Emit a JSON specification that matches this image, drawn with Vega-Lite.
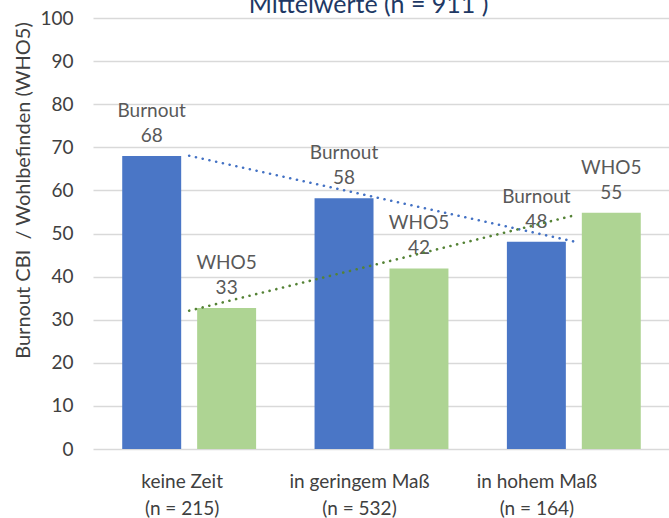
{
  "$schema": "https://vega.github.io/schema/vega-lite/v6.json",
  "width": 577,
  "height": 431,
  "autosize": {"type": "none"},
  "padding": {"left": 93, "top": 18, "right": 0, "bottom": 69},
  "background": "white",
  "config": {"view": {"stroke": null}, "font": "Lato"},
  "title": {"text": "Mittelwerte (n = 911 )", "font": "Lato", "fontSize": 25, "fontWeight": "normal", "color": "#203864", "offset": 0, "dy": 29, "baseline": "alphabetic", "frame": "group", "anchor": "middle", "dx": -13},
  "data": {"values": [
    {"cat": "keine Zeit (n = 215)", "idx": 1, "series": "Burnout", "value": 68.0},
    {"cat": "keine Zeit (n = 215)", "idx": 1, "series": "WHO5", "value": 32.7},
    {"cat": "in geringem Maß (n = 532)", "idx": 2, "series": "Burnout", "value": 58.2},
    {"cat": "in geringem Maß (n = 532)", "idx": 2, "series": "WHO5", "value": 41.9},
    {"cat": "in hohem Maß (n = 164)", "idx": 3, "series": "Burnout", "value": 48.1},
    {"cat": "in hohem Maß (n = 164)", "idx": 3, "series": "WHO5", "value": 54.8}
  ]},
  "layer": [
    {
      "encoding": {
        "x": {"field": "cat", "type": "nominal", "sort": null, "scale": {"paddingInner": 0, "paddingOuter": 0}, "axis": null},
        "xOffset": {"field": "series", "type": "nominal", "scale": {"paddingInner": 0.213, "paddingOuter": 0.39}},
        "y": {"field": "value", "type": "quantitative", "scale": {"domain": [0, 100]},
          "axis": {"values": [0,10,20,30,40,50,60,70,80,90,100], "grid": true, "gridColor": "#d9d9d9", "gridWidth": 1.3, "domain": false, "ticks": false, "labelPadding": 20, "labelFont": "Lato", "labelFontSize": 19, "labelColor": "#404040", "title": "Burnout CBI \u00a0/ Wohlbefinden (WHO5)", "titleFont": "Lato", "titleFontSize": 20, "titleFontWeight": "normal", "titleColor": "#404040", "titleX": -60, "titleY": 172, "titleAngle": -90, "titleAlign": "center", "titleBaseline": "bottom"}}
      },
      "layer": [
        {"mark": {"type": "bar"},
         "encoding": {"fill": {"field": "series", "type": "nominal", "scale": {"domain": ["Burnout", "WHO5"], "range": ["#4a76c6", "#aed493"]}, "legend": null}}},
        {"mark": {"type": "text", "baseline": "alphabetic", "dy": -14, "font": "Lato", "fontSize": 19, "color": "#595959"},
         "encoding": {"text": {"field": "value", "type": "quantitative", "format": ".0f"}}},
        {"mark": {"type": "text", "baseline": "alphabetic", "dy": -39, "font": "Lato", "fontSize": 19, "color": "#595959"},
         "encoding": {"text": {"field": "series", "type": "nominal"}}}
      ]
    },
    {
      "mark": {"type": "point", "opacity": 0},
      "encoding": {
        "x": {"field": "cat", "type": "nominal", "sort": null, "scale": {"range": [0, 532], "paddingInner": 0, "paddingOuter": 0},
          "axis": {"orient": "bottom", "domain": false, "ticks": false, "labelPadding": 23, "labelFont": "Lato", "labelFontSize": 19, "labelColor": "#404040", "labelAngle": 0, "labelLineHeight": 27, "labelExpr": "[substring(datum.label, 0, indexof(datum.label, ' (')), substring(datum.label, indexof(datum.label, ' (') + 1)]", "title": null}},
        "y": {"datum": 0, "type": "quantitative"}
      }
    },
    {
      "transform": [{"filter": "datum.series === 'Burnout'"}, {"regression": "value", "on": "idx", "extent": [1, 3]}],
      "mark": {"type": "line", "color": "#4472C4", "strokeWidth": 2.6, "strokeCap": "round", "strokeDash": [0.1, 6.8]},
      "encoding": {
        "x": {"field": "idx", "type": "quantitative", "scale": {"domain": [0.5, 3.5]}, "axis": null},
        "y": {"field": "value", "type": "quantitative"}
      }
    },
    {
      "transform": [{"filter": "datum.series === 'WHO5'"}, {"regression": "value", "on": "idx", "extent": [1, 3]}],
      "mark": {"type": "line", "color": "#548235", "strokeWidth": 2.6, "strokeCap": "round", "strokeDash": [0.1, 6.8]},
      "encoding": {
        "x": {"field": "idx", "type": "quantitative", "scale": {"domain": [0.5, 3.5]}, "axis": null},
        "y": {"field": "value", "type": "quantitative"}
      }
    }
  ],
  "resolve": {"scale": {"x": "independent"}}
}
